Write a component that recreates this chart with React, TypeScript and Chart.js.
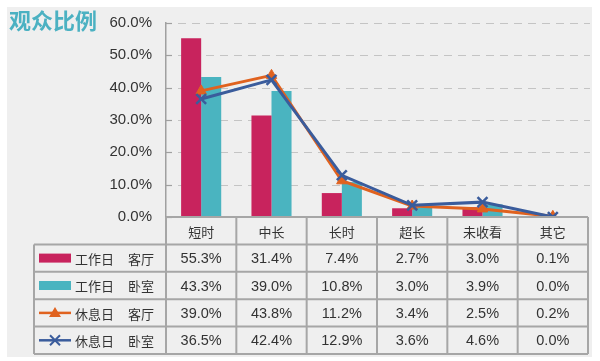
import React, { useEffect, useRef } from 'react';
import { Chart, registerables } from 'chart.js';

Chart.register(...registerables);

const title = '观众比例';
const categories = ['短时', '中长', '长时', '超长', '未收看', '其它'];
const workdayLiving = [55.3, 31.4, 7.4, 2.7, 3.0, 0.1];
const workdayBedroom = [43.3, 39.0, 10.8, 3.0, 3.9, 0.0];
const restdayLiving = [39.0, 43.8, 11.2, 3.4, 2.5, 0.2];
const restdayBedroom = [36.5, 42.4, 12.9, 3.6, 4.6, 0.0];
const seriesDay = ['工作日', '工作日', '休息日', '休息日'];
const seriesRoom = ['客厅', '卧室', '客厅', '卧室'];
const yTicks = [0, 10, 20, 30, 40, 50, 60];

const MAGENTA = '#C8235D';
const TEAL = '#4AB4C0';
const ORANGE = '#E0621F';
const BLUE = '#3A5C9C';
const CJK = '"Noto Sans CJK SC", "Noto Sans", sans-serif';
const NUM = 'Arial, "Liberation Sans", sans-serif';

const fmt = (v: number) => v.toFixed(1) + '%';

const panelPlugin = {
  id: 'panel',
  beforeDraw(chart: any) {
    const { ctx, width, height } = chart;
    ctx.save();
    ctx.fillStyle = '#ffffff';
    ctx.fillRect(0, 0, width, height);
    ctx.fillStyle = '#efefef';
    ctx.fillRect(7, 7, 585, 350);
    ctx.font = 'bold 22px ' + CJK;
    ctx.fillStyle = '#4BB1C2';
    ctx.textBaseline = 'middle';
    ctx.textAlign = 'left';
    ctx.fillText(title, 9, 21);
    ctx.restore();
  },
  beforeDatasetsDraw(chart: any) {
    const { ctx, chartArea, scales } = chart;
    const y = scales.y;
    ctx.save();
    yTicks.forEach((v) => {
      const py = Math.round(y.getPixelForValue(v)) + 0.5;
      if (v > 0) {
        ctx.strokeStyle = '#c4c4c4';
        ctx.lineWidth = 1;
        ctx.setLineDash([8, 6]);
        ctx.beginPath();
        ctx.moveTo(chartArea.left + 12, py);
        ctx.lineTo(chartArea.right + 2, py);
        ctx.stroke();
      }
      ctx.setLineDash([]);
      ctx.strokeStyle = '#a0a0a0';
      ctx.lineWidth = 1.2;
      ctx.beginPath();
      ctx.moveTo(chartArea.left, py);
      ctx.lineTo(chartArea.left + 6, py);
      ctx.stroke();
    });
    ctx.restore();
  },
  afterDraw(chart: any) {
    const { ctx, chartArea, scales } = chart;
    const x = scales.x;
    const n = categories.length;
    const step = x.getPixelForValue(1) - x.getPixelForValue(0);
    const colL = (i: number) => x.getPixelForValue(i) - step / 2;
    const top = chartArea.bottom;
    const rowH = 27.4;
    const legendL = 34;
    const tableR = colL(n);
    const bottom = top + rowH * 5;
    ctx.save();
    ctx.strokeStyle = '#a6a6a6';
    ctx.lineWidth = 2;
    ctx.setLineDash([]);
    ctx.beginPath();
    ctx.moveTo(colL(0), top);
    ctx.lineTo(tableR, top);
    for (let k = 1; k <= 5; k++) {
      const yy = top + rowH * k;
      ctx.moveTo(legendL, yy);
      ctx.lineTo(tableR, yy);
    }
    ctx.moveTo(legendL, top + rowH);
    ctx.lineTo(legendL, bottom);
    for (let i = 0; i <= n; i++) {
      ctx.moveTo(colL(i), top);
      ctx.lineTo(colL(i), bottom);
    }
    ctx.stroke();

    ctx.fillStyle = '#333333';
    ctx.textAlign = 'center';
    ctx.textBaseline = 'middle';
    ctx.font = '13px ' + CJK;
    categories.forEach((c, i) => {
      ctx.fillText(c, x.getPixelForValue(i), top + rowH / 2 + 1);
    });

    const rows = [workdayLiving, workdayBedroom, restdayLiving, restdayBedroom];
    rows.forEach((vals, r) => {
      const cy = top + rowH * (r + 1.5);
      ctx.font = '14.5px ' + NUM;
      ctx.textAlign = 'center';
      ctx.fillStyle = '#333333';
      vals.forEach((v, i) => {
        ctx.fillText(fmt(v), x.getPixelForValue(i), cy + 1);
      });
      ctx.font = '13px ' + CJK;
      ctx.textAlign = 'left';
      ctx.fillText(seriesDay[r], 75, cy + 1);
      ctx.fillText(seriesRoom[r], 128, cy + 1);
      const sx0 = 39;
      const sx1 = 71;
      const mx = (sx0 + sx1) / 2;
      if (r === 0 || r === 1) {
        ctx.fillStyle = r === 0 ? MAGENTA : TEAL;
        ctx.fillRect(sx0, cy - 4.5, sx1 - sx0, 9);
      } else {
        const col = r === 2 ? ORANGE : BLUE;
        ctx.strokeStyle = col;
        ctx.lineWidth = 2.5;
        ctx.beginPath();
        ctx.moveTo(sx0, cy);
        ctx.lineTo(sx1, cy);
        ctx.stroke();
        if (r === 2) {
          ctx.fillStyle = col;
          ctx.beginPath();
          ctx.moveTo(mx, cy - 6);
          ctx.lineTo(mx + 6, cy + 4);
          ctx.lineTo(mx - 6, cy + 4);
          ctx.closePath();
          ctx.fill();
        } else {
          ctx.lineWidth = 2;
          ctx.beginPath();
          ctx.moveTo(mx - 5, cy - 5);
          ctx.lineTo(mx + 5, cy + 5);
          ctx.moveTo(mx + 5, cy - 5);
          ctx.lineTo(mx - 5, cy + 5);
          ctx.stroke();
        }
      }
    });
    ctx.restore();
  },
};

export default function App() {
  const ref = useRef<HTMLCanvasElement | null>(null);
  useEffect(() => {
    if (!ref.current) return;
    const chart = new Chart(ref.current, {
      type: 'bar',
      data: {
        labels: categories,
        datasets: [
          {
            type: 'bar',
            label: seriesDay[0] + ' ' + seriesRoom[0],
            data: workdayLiving,
            backgroundColor: MAGENTA,
            borderWidth: 0,
            barPercentage: 1,
            categoryPercentage: 0.57,
            order: 3,
          },
          {
            type: 'bar',
            label: seriesDay[1] + ' ' + seriesRoom[1],
            data: workdayBedroom,
            backgroundColor: TEAL,
            borderWidth: 0,
            barPercentage: 1,
            categoryPercentage: 0.57,
            order: 4,
          },
          {
            type: 'line',
            label: seriesDay[2] + ' ' + seriesRoom[2],
            data: restdayLiving,
            borderColor: ORANGE,
            backgroundColor: ORANGE,
            borderWidth: 3,
            pointStyle: 'triangle',
            pointRadius: 6,
            pointBorderWidth: 1,
            tension: 0,
            order: 2,
          },
          {
            type: 'line',
            label: seriesDay[3] + ' ' + seriesRoom[3],
            data: restdayBedroom,
            borderColor: BLUE,
            backgroundColor: BLUE,
            borderWidth: 3,
            pointStyle: 'crossRot',
            pointRadius: 7,
            pointBorderWidth: 2.5,
            tension: 0,
            order: 1,
          },
        ],
      },
      options: {
        responsive: false,
        animation: false,
        layout: { padding: { left: 0, right: 12, top: 21, bottom: 144 } },
        plugins: {
          legend: { display: false },
          tooltip: { enabled: false },
          title: { display: false },
        },
        scales: {
          x: {
            display: false,
            offset: true,
            grid: { display: false },
          },
          y: {
            min: 0,
            max: 60,
            afterFit: (scale: any) => {
              scale.width = 166;
            },
            afterBuildTicks: (scale: any) => {
              scale.ticks = yTicks.map((v) => ({ value: v }));
            },
            grid: { display: false, drawTicks: false },
            border: { display: true, color: '#a0a0a0', width: 1.5 },
            ticks: {
              padding: 14,
              color: '#333333',
              font: { family: NUM, size: 15 },
              callback: (v: any) => fmt(Number(v)),
            },
          },
        },
      },
      plugins: [panelPlugin],
    });
    return () => chart.destroy();
  }, []);
  return (
    <div style={{ position: 'absolute', left: 0, top: 0, width: 600, height: 361 }}>
      <canvas ref={ref} width={600} height={361} style={{ width: 600, height: 361, display: 'block' }} />
    </div>
  );
}
